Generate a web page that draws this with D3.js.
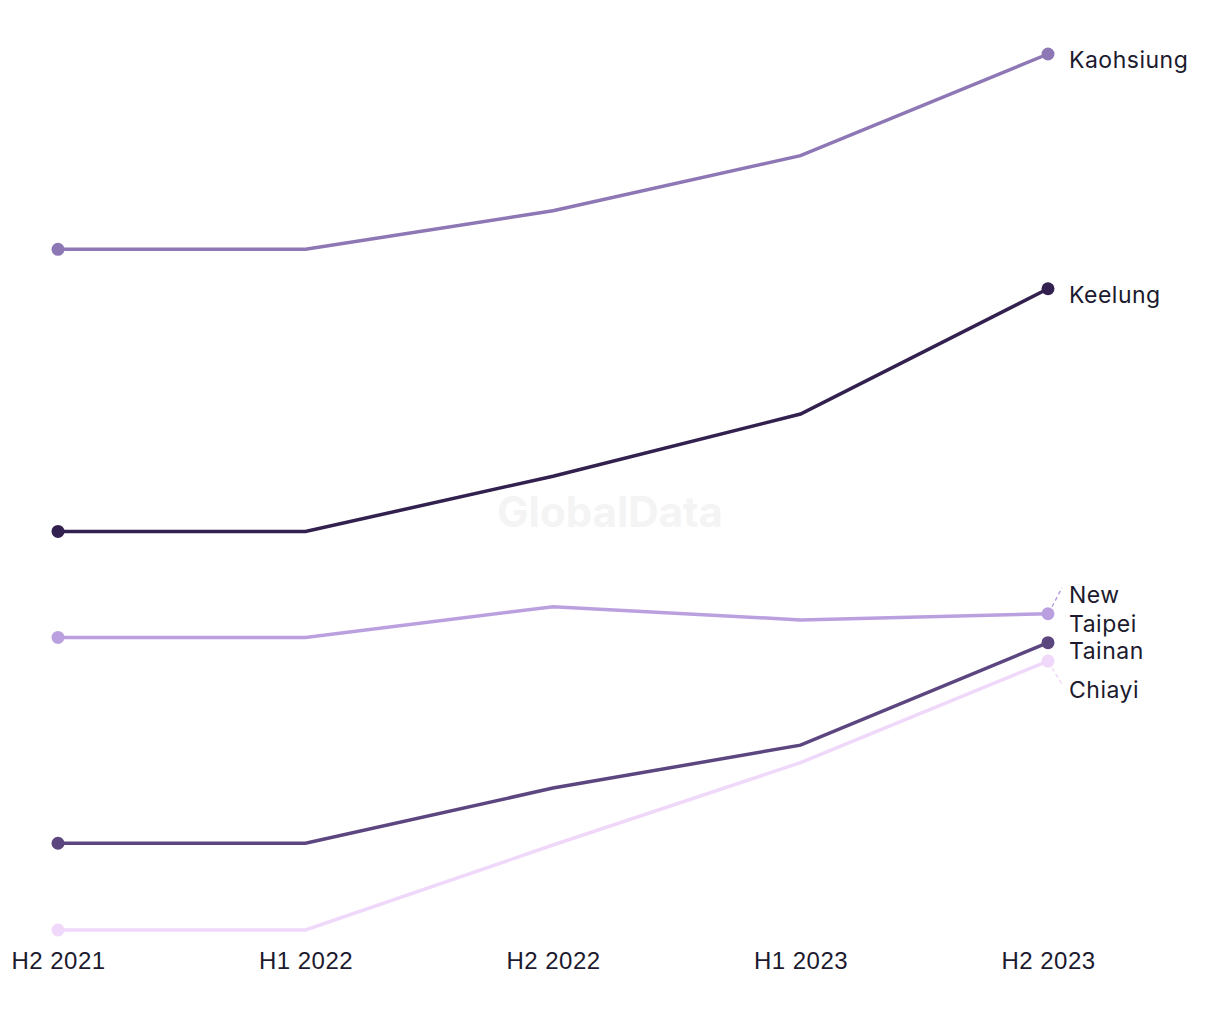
<!DOCTYPE html>
<html>
<head>
<meta charset="utf-8">
<script src="https://cdn.jsdelivr.net/npm/d3@7"></script>
<style>
  body { margin: 0; background: #fff; }
  svg { font-family: "Inter", "Noto Sans", sans-serif; }
  .label { fill: #1c1a2e; font-size: 23px; letter-spacing: 0.5px; }
  .tick text { fill: #1c1a2e; font-size: 24px; letter-spacing: 0.5px; }
</style>
</head>
<body>
<svg id="chart" width="1220" height="1020"></svg>
<script>
const periods = ["H2 2021", "H1 2022", "H2 2022", "H1 2023", "H2 2023"];

const kaohsiung = [77.7, 77.7, 82.1, 88.4, 100];
const keelung   = [45.5, 45.5, 51.8, 58.9, 73.2];
const newTaipei = [33.4, 33.4, 36.9, 35.4, 36.1];
const tainan    = [9.9, 9.9, 16.2, 21.1, 32.8];
const chiayi    = [0, 0, 9.7, 19.1, 30.7];

const seriesNames = ["Kaohsiung", "Keelung", "New Taipei", "Tainan", "Chiayi"];
const seriesValues = [kaohsiung, keelung, newTaipei, tainan, chiayi];
const seriesColors = ["#8e77b5", "#32204f", "#bba0e0", "#5c4680", "#f0d8fa"];

// label placement tweaks (pixel offsets from end point), keeps crowded ones apart
const labelLines = [["Kaohsiung"], ["Keelung"], ["New", "Taipei"], ["Tainan"], ["Chiayi"]];
const labelDy = [0, 0, -25, 2, 23];

const svg = d3.select("#chart");
const margin = { left: 58, right: 172, top: 54, bottom: 90 };
const width = 1220, height = 1020;

const x = d3.scalePoint().domain(periods).range([margin.left, width - margin.right]);
const y = d3.scaleLinear().domain([0, 100]).range([height - margin.bottom, margin.top]);

// watermark
svg.append("text")
    .attr("x", 610).attr("y", 527)
    .attr("text-anchor", "middle")
    .style("font-size", "42px").style("font-weight", "bold")
    .style("fill", "#f4f4f4")
    .text("GlobalData");

const xAxis = svg.append("g")
    .attr("class", "x-axis")
    .attr("transform", `translate(0, ${height - margin.bottom})`)
    .call(d3.axisBottom(x).tickSize(0).tickPadding(22));
xAxis.select(".domain").remove();

const line = d3.line().x((d, i) => x(periods[i])).y(d => y(d));

const series = seriesNames.map((name, i) => ({
    name, values: seriesValues[i], color: seriesColors[i], lines: labelLines[i], dy: labelDy[i]
}));

// draw from bottom to top so darker lines sit above lighter ones
const order = [4, 2, 3, 1, 0];
order.forEach(i => {
    const s = series[i];
    const g = svg.append("g").attr("class", "series");
    g.append("path")
        .datum(s.values)
        .attr("d", line)
        .attr("fill", "none")
        .attr("stroke", s.color)
        .attr("stroke-width", 3.5);

    const first = s.values[0], last = s.values[s.values.length - 1];
    g.selectAll("circle")
        .data([[periods[0], first], [periods[periods.length - 1], last]])
        .join("circle")
        .attr("cx", d => x(d[0]))
        .attr("cy", d => y(d[1]))
        .attr("r", 6.5)
        .attr("fill", s.color);

    const ex = x(periods[periods.length - 1]);
    const ey = y(last);
    const ly = ey + s.dy;

    if (Math.abs(s.dy) > 5) {
        const up = s.dy < 0;
        g.append("line")
            .attr("x1", ex + 4).attr("y1", ey + (up ? -7 : 7))
            .attr("x2", ex + 14).attr("y2", up ? ey - 26 : ey + 23)
            .attr("stroke", s.color)
            .attr("stroke-width", 1.5)
            .attr("stroke-dasharray", "4,3");
    }

    const t = g.append("text")
        .attr("class", "label")
        .attr("x", ex + 21)
        .attr("y", ly + 14);
    s.lines.forEach((ln, k) => {
        t.append("tspan").attr("x", ex + 21).attr("dy", k === 0 ? 0 : 29).text(ln);
    });
});
</script>
</body>
</html>
